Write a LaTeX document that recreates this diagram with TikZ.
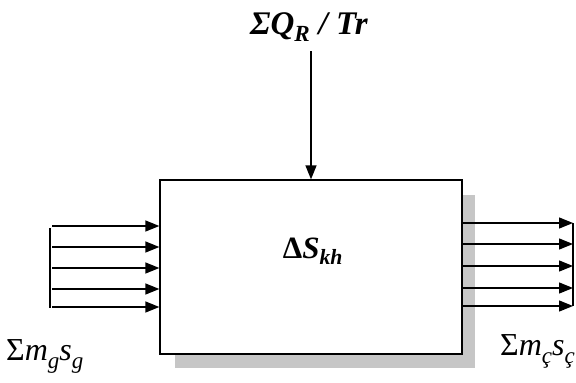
\documentclass[tikz,border=0pt]{standalone}
\usepackage{fontspec}
\setmainfont{Liberation Serif}
\usetikzlibrary{arrows.meta}
\newcommand{\mysub}[1]{\raisebox{-0.25em}{\fontsize{23}{26}\selectfont\itshape #1}}
\begin{document}
\begin{tikzpicture}[x=1pt,y=1pt,
  flow/.style={line width=1.3pt,-{Triangle[length=14pt,width=11pt]}},
  bar/.style={line width=1.3pt},
  lbl/.style={inner sep=0pt,font=\fontsize{32}{36}\selectfont}]
\useasboundingbox (0,0) rectangle (576,-383);
% shadow
\fill[gray!45] (175,-195) rectangle (475,-368);
% box
\node[draw,fill=white,line width=1.3pt,minimum width=302pt,minimum height=174pt,inner sep=0pt] (box) at (311,-267) {};
\node[inner sep=0pt,font=\fontsize{31}{34}\selectfont\bfseries] (ds) at (313,-251) {Δ\textit{S}\textsubscript{\textit{kh}}};
% top heat flow
\node[inner sep=0pt,font=\fontsize{33}{36}\selectfont\bfseries\itshape] (qr) at (309,-27) {ΣQ\textsubscript{R} / Tr};
\coordinate (qtop) at (311,-51);
\draw[flow] (qtop) -- (box.north -| qtop);
% inlet
\coordinate (ib) at (50,-228);
\coordinate (ie) at (50,-308);
\draw[bar] (ib) -- (ie);
\foreach \i/\y in {1/-226,2/-247,3/-268,4/-289,5/-307}{
  \coordinate (in\i) at (52,\y);
  \draw[flow] (in\i) -- (in\i -| box.west);
}
% outlet
\foreach \i/\y in {1/-223,2/-244,3/-266,4/-288,5/-306}{
  \coordinate (out\i) at (573,\y);
  \draw[flow] (out\i -| box.east) -- (out\i);
}
\draw[bar] (out1) -- (out5);
% labels
\node[lbl,anchor=west] (lin) at (6,-356) {Σ\textit{m}\mysub{g}\textit{s}\mysub{g}};
\node[lbl,anchor=west] (lout) at (500,-351) {Σ\textit{m}\mysub{ç}\textit{s}\mysub{ç}};
\end{tikzpicture}
\end{document}
